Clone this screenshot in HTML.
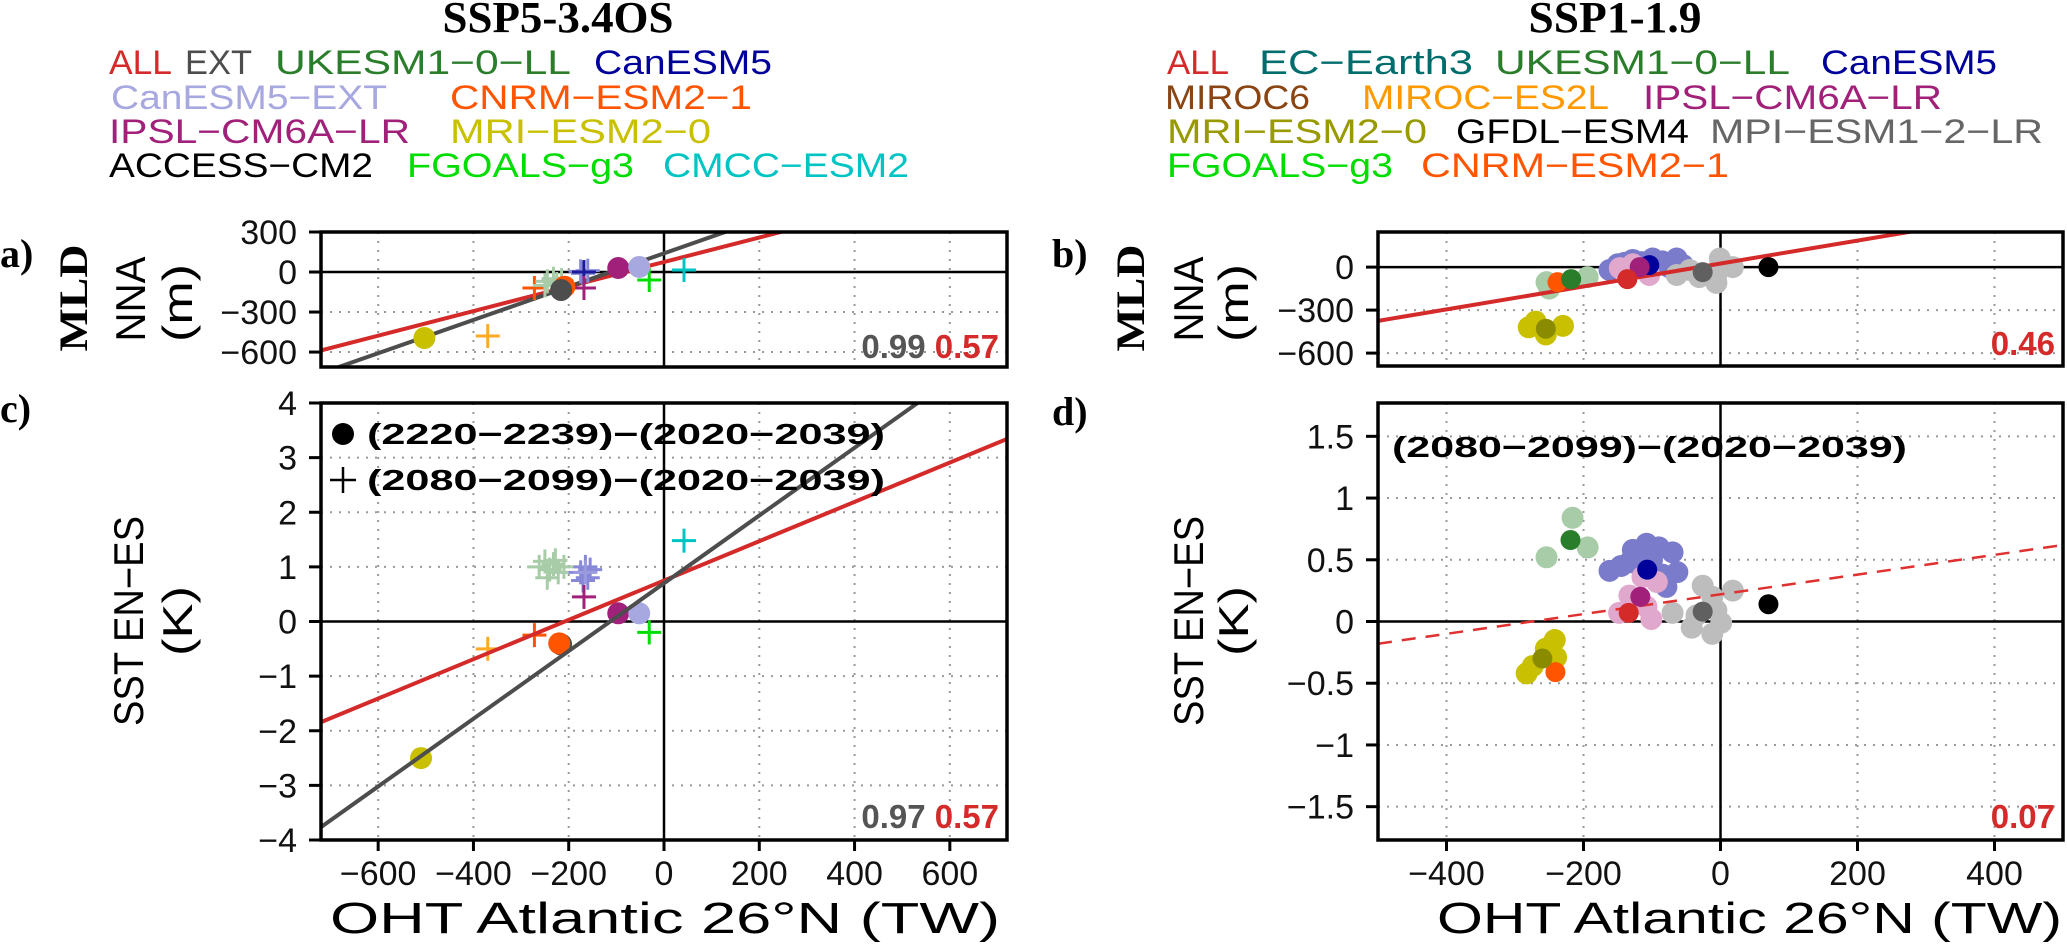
<!DOCTYPE html>
<html><head><meta charset="utf-8"><title>OHT vs MLD / SST scatter</title>
<style>
html,body{margin:0;padding:0;background:#fff;}
svg{display:block;}
.tick{font-family:"Liberation Sans",sans-serif;font-size:34px;fill:#111;}
.leg{font-family:"Liberation Sans",sans-serif;font-size:34px;}
.ttl{font-family:"Liberation Serif",serif;font-weight:bold;font-size:44px;fill:#000;}
.lbl{font-family:"Liberation Serif",serif;font-weight:bold;font-size:40px;fill:#000;}
.ylab{font-family:"Liberation Sans",sans-serif;font-size:42px;fill:#000;}
.xlab{font-family:"Liberation Sans",sans-serif;font-size:44px;fill:#000;}
.corr{font-family:"Liberation Sans",sans-serif;font-size:33px;font-weight:bold;}
.inl{font-family:"Liberation Sans",sans-serif;font-size:29px;font-weight:600;fill:#000;}
</style></head>
<body>
<svg id="fig" width="2067" height="950" viewBox="0 0 2067 950" xmlns="http://www.w3.org/2000/svg">
  <text class="ttl" x="558" y="32" text-anchor="middle" textLength="231" lengthAdjust="spacingAndGlyphs">SSP5-3.4OS</text>
  <text class="ttl" x="1615" y="32" text-anchor="middle" textLength="173" lengthAdjust="spacingAndGlyphs">SSP1-1.9</text>

  <g>
    <text class="leg" x="109" y="74" textLength="63" lengthAdjust="spacingAndGlyphs" fill="#d42a2a">ALL</text>
    <text class="leg" x="185" y="74" textLength="67" lengthAdjust="spacingAndGlyphs" fill="#4d4d4d">EXT</text>
    <text class="leg" x="275" y="74" textLength="296" lengthAdjust="spacingAndGlyphs" fill="#2a7d2a">UKESM1−0−LL</text>
    <text class="leg" x="594" y="74" textLength="178" lengthAdjust="spacingAndGlyphs" fill="#00009a">CanESM5</text>
    <text class="leg" x="111" y="109" textLength="276" lengthAdjust="spacingAndGlyphs" fill="#a8a8e0">CanESM5−EXT</text>
    <text class="leg" x="450" y="109" textLength="302" lengthAdjust="spacingAndGlyphs" fill="#ff5500">CNRM−ESM2−1</text>
    <text class="leg" x="109" y="143" textLength="301" lengthAdjust="spacingAndGlyphs" fill="#a0207a">IPSL−CM6A−LR</text>
    <text class="leg" x="450" y="143" textLength="261" lengthAdjust="spacingAndGlyphs" fill="#c8c000">MRI−ESM2−0</text>
    <text class="leg" x="109" y="177" textLength="264" lengthAdjust="spacingAndGlyphs" fill="#000">ACCESS−CM2</text>
    <text class="leg" x="407" y="177" textLength="227" lengthAdjust="spacingAndGlyphs" fill="#00dd00">FGOALS−g3</text>
    <text class="leg" x="663" y="177" textLength="246" lengthAdjust="spacingAndGlyphs" fill="#00c4c4">CMCC−ESM2</text>
  </g>
  <g>
    <text class="leg" x="1167" y="74" textLength="62" lengthAdjust="spacingAndGlyphs" fill="#d42a2a">ALL</text>
    <text class="leg" x="1259" y="74" textLength="214" lengthAdjust="spacingAndGlyphs" fill="#006d6d">EC−Earth3</text>
    <text class="leg" x="1495" y="74" textLength="295" lengthAdjust="spacingAndGlyphs" fill="#2a7d2a">UKESM1−0−LL</text>
    <text class="leg" x="1821" y="74" textLength="176" lengthAdjust="spacingAndGlyphs" fill="#00009a">CanESM5</text>
    <text class="leg" x="1165" y="109" textLength="145" lengthAdjust="spacingAndGlyphs" fill="#8b4513">MIROC6</text>
    <text class="leg" x="1362" y="109" textLength="247" lengthAdjust="spacingAndGlyphs" fill="#ff9900">MIROC−ES2L</text>
    <text class="leg" x="1643" y="109" textLength="299" lengthAdjust="spacingAndGlyphs" fill="#a0207a">IPSL−CM6A−LR</text>
    <text class="leg" x="1167" y="143" textLength="260" lengthAdjust="spacingAndGlyphs" fill="#999900">MRI−ESM2−0</text>
    <text class="leg" x="1456" y="143" textLength="233" lengthAdjust="spacingAndGlyphs" fill="#000">GFDL−ESM4</text>
    <text class="leg" x="1710" y="143" textLength="333" lengthAdjust="spacingAndGlyphs" fill="#666">MPI−ESM1−2−LR</text>
    <text class="leg" x="1167" y="177" textLength="226" lengthAdjust="spacingAndGlyphs" fill="#00dd00">FGOALS−g3</text>
    <text class="leg" x="1421" y="177" textLength="308" lengthAdjust="spacingAndGlyphs" fill="#ff5500">CNRM−ESM2−1</text>
  </g>

  <text class="lbl" x="0" y="267">a)</text>
  <text class="lbl" x="0" y="422">c)</text>
  <text class="lbl" x="1052" y="267">b)</text>
  <text class="lbl" x="1052" y="425">d)</text>
  <text class="lbl" transform="translate(87,298) rotate(-90)" text-anchor="middle" font-size="48" textLength="107" lengthAdjust="spacingAndGlyphs">MLD</text>
  <text class="ylab" transform="translate(145,299) rotate(-90)" text-anchor="middle" textLength="85" lengthAdjust="spacingAndGlyphs">NNA</text>
  <text class="ylab" transform="translate(192,303) rotate(-90)" text-anchor="middle" textLength="78" lengthAdjust="spacingAndGlyphs">(m)</text>
  <text class="lbl" transform="translate(1144,298) rotate(-90)" text-anchor="middle" font-size="48" textLength="107" lengthAdjust="spacingAndGlyphs">MLD</text>
  <text class="ylab" transform="translate(1203,299) rotate(-90)" text-anchor="middle" textLength="85" lengthAdjust="spacingAndGlyphs">NNA</text>
  <text class="ylab" transform="translate(1248,303) rotate(-90)" text-anchor="middle" textLength="78" lengthAdjust="spacingAndGlyphs">(m)</text>
  <text class="ylab" transform="translate(143,621) rotate(-90)" text-anchor="middle" textLength="210" lengthAdjust="spacingAndGlyphs">SST EN−ES</text>
  <text class="ylab" transform="translate(192,621) rotate(-90)" text-anchor="middle" textLength="70" lengthAdjust="spacingAndGlyphs">(K)</text>
  <text class="ylab" transform="translate(1203,621) rotate(-90)" text-anchor="middle" textLength="210" lengthAdjust="spacingAndGlyphs">SST EN−ES</text>
  <text class="ylab" transform="translate(1248,621) rotate(-90)" text-anchor="middle" textLength="70" lengthAdjust="spacingAndGlyphs">(K)</text>

  <text class="xlab" x="330" y="933" textLength="670" lengthAdjust="spacingAndGlyphs">OHT Atlantic 26°N (TW)</text>
  <text class="xlab" x="1437" y="933" textLength="625" lengthAdjust="spacingAndGlyphs">OHT Atlantic 26°N (TW)</text>

  <g id="plots"></g>
</svg>
<script>
// ---------- data ----------
const aDotX = [-503, -209, -216, -96, -52];
const aDotY = [-495, -110, -135, 30, 38];
const aDotC = ['#c8c000', '#ff5500', '#4d4d4d', '#a0207a', '#a8a8e0'];
const aCrossX = [-272, -250, -245, -232, -225, -215, -175, -170, -160, -168, -168, -31, 42, -370];
const aCrossY = [-120, -100, -70, -50, -90, -60, 5, -10, 10, 0, -120, -60, 15, -480];
const aCrossC = ['#ff5500', '#a8cca8', '#a8cca8', '#a8cca8', '#a8cca8', '#a8cca8', '#8888d8', '#8888d8', '#8888d8', '#1a1a9a', '#a0207a', '#00dd00', '#00c4c4', '#ffaa22'];
const aFitAll = [75, 0.92];
const aFitExt = [140, 1.248];
const aCorr = ['0.99', '0.57'];

const cDotX = [-510, -216, -220, -96, -52];
const cDotY = [-2.5, -0.42, -0.4, 0.15, 0.15];
const cDotC = ['#c8c000', '#4d4d4d', '#ff5500', '#a0207a', '#a8a8e0'];
const cCrossX = [-262, -250, -240, -232, -222, -245, -210, -228, -175, -165, -160, -155, -170, -165, -168, 42, -31, -272, -370];
const cCrossY = [1.0, 1.1, 0.95, 1.05, 0.9, 0.8, 1.0, 1.12, 0.9, 1.0, 0.8, 0.95, 0.75, 0.9, 0.45, 1.48, -0.2, -0.25, -0.5];
const cCrossC = ['#a8cca8', '#a8cca8', '#a8cca8', '#a8cca8', '#a8cca8', '#a8cca8', '#a8cca8', '#a8cca8', '#8888d8', '#8888d8', '#8888d8', '#8888d8', '#8888d8', '#9a9ae0', '#a0207a', '#00c4c4', '#00dd00', '#ff5500', '#ffaa22'];
const cFitAll = [0.75, 0.0036];
const cFitExt = [0.7, 0.0062];
const cCorr = ['0.97', '0.57'];

const bBgX = [-254, -194, -250, -162, -150, -128, -115, -99, -85, -64, -55, -140, -75, -147, -104, -128, -64, -31, -6, -1, 18, -6, -45, -280, -255, -230, -270];
const bBgY = [-105, -70, -150, -20, 20, 50, 35, 60, 40, 60, 15, 30, 0, -7, -55, 20, -55, -70, -55, 60, 0, -110, -20, -420, -470, -410, -380];
const bBgC = ['#a8cca8', '#a8cca8', '#a8cca8', '#7b7bcc', '#7b7bcc', '#7b7bcc', '#7b7bcc', '#7b7bcc', '#7b7bcc', '#7b7bcc', '#7b7bcc', '#7b7bcc', '#7b7bcc', '#e0a8cc', '#e0a8cc', '#e0a8cc', '#bdbdbd', '#bdbdbd', '#bdbdbd', '#bdbdbd', '#bdbdbd', '#bdbdbd', '#bdbdbd', '#c8c000', '#c8c000', '#c8c000', '#c8c000'];
const bDotX = [-238, -218, -104, -118, -136, -26, 70, -255];
const bDotY = [-105, -84, 14, 0, -84, -35, 0, -430];
const bDotC = ['#ff5500', '#2a7d2a', '#00009a', '#a0207a', '#d42a2a', '#606060', '#000000', '#8b8b00'];
const bFitAll = [25, 0.8];
const bCorr = ['0.46'];

const dBgX = [-216, -254, -194, -162, -145, -128, -115, -108, -90, -70, -63, -79, -133, -100, -85, -118, -114, -93, -133, -148, -101, -108, -26, 18, -70, -42, -12, -6, 1, -12, -35, -242, -283, -274, -240, -255];
const dBgY = [0.84, 0.52, 0.6, 0.41, 0.45, 0.58, 0.5, 0.63, 0.6, 0.56, 0.4, 0.28, 0.48, 0.5, 0.38, 0.45, 0.36, 0.32, 0.21, 0.07, 0.02, 0.12, 0.29, 0.25, 0.07, -0.05, -0.1, 0.09, -0.01, 0.2, 0.05, -0.15, -0.42, -0.36, -0.29, -0.22];
const dBgC = ['#a8cca8', '#a8cca8', '#a8cca8', '#7b7bcc', '#7b7bcc', '#7b7bcc', '#7b7bcc', '#7b7bcc', '#7b7bcc', '#7b7bcc', '#7b7bcc', '#7b7bcc', '#7b7bcc', '#7b7bcc', '#7b7bcc', '#7b7bcc', '#e0a8cc', '#e0a8cc', '#e0a8cc', '#e0a8cc', '#e0a8cc', '#e0a8cc', '#bdbdbd', '#bdbdbd', '#bdbdbd', '#bdbdbd', '#bdbdbd', '#bdbdbd', '#bdbdbd', '#bdbdbd', '#bdbdbd', '#c8c000', '#c8c000', '#c8c000', '#c8c000', '#c8c000'];
const dDotX = [-241, -219, -260, -107, -117, -134, -26, 70];
const dDotY = [-0.41, 0.66, -0.3, 0.42, 0.2, 0.07, 0.08, 0.14];
const dDotC = ['#ff5500', '#2a7d2a', '#8b8b00', '#00009a', '#a0207a', '#d42a2a', '#606060', '#000000'];
const dFitAll = [0.22, 0.0008];
const dCorr = ['0.07'];

const xTicksLeft = [-600, -400, -200, 0, 200, 400, 600];
const xTicksRight = [-400, -200, 0, 200, 400];
const yTicksA = [300, 0, -300, -600];
const yTicksB = [0, -300, -600];
const yTicksC = [4, 3, 2, 1, 0, -1, -2, -3, -4];
const yTicksD = [1.5, 1, 0.5, 0, -0.5, -1, -1.5];

// ---------- drawing ----------
const NS = 'http://www.w3.org/2000/svg';
const root = document.getElementById('plots');
function mk(tag, attrs, parent) {
  const el = document.createElementNS(NS, tag);
  for (const k in attrs) el.setAttribute(k, attrs[k]);
  (parent || root).appendChild(el);
  return el;
}
function axis(p) {
  p.sx = v => p.x0 + (v - p.xmin) / (p.xmax - p.xmin) * (p.x1 - p.x0);
  p.sy = v => p.y1 - (v - p.ymin) / (p.ymax - p.ymin) * (p.y1 - p.y0);
  return p;
}
const A = axis({id:'a', x0:321, x1:1007, y0:232, y1:367, xmin:-720, xmax:720, ymin:-712, ymax:300});
const C = axis({id:'c', x0:321, x1:1007, y0:403, y1:840, xmin:-720, xmax:720, ymin:-4, ymax:4});
const B = axis({id:'b', x0:1378, x1:2063, y0:232, y1:366, xmin:-500, xmax:500, ymin:-690, ymax:245});
const D = axis({id:'d', x0:1378, x1:2063, y0:403, y1:840, xmin:-500, xmax:500, ymin:-1.77, ymax:1.77});

function frame(p, xt, yt, showXLabels) {
  const g = mk('g', {});
  
  
  p.g = g;
  const clip = mk('clipPath', {id: 'clip-' + p.id}, g);
  mk('rect', {x: p.x0, y: p.y0, width: p.x1 - p.x0, height: p.y1 - p.y0}, clip);
  p.inner = mk('g', {'clip-path': 'url(#clip-' + p.id + ')'}, g);
  xt.forEach(v => {
    const X = p.sx(v);
    if (v !== 0) {
      const gl = mk('line', {x1: X, x2: X, y1: p.y0, y2: p.y1, stroke: '#999', 'stroke-width': 2, 'stroke-dasharray': '2 7'}, p.inner);
      
      
    }
    if (showXLabels) {
      mk('line', {x1: X, x2: X, y1: p.y1, y2: p.y1 + 11, stroke: '#000', 'stroke-width': 3}, g);
      const t = mk('text', {x: X, y: 885, 'text-anchor': 'middle', class: 'tick'}, g);
      t.textContent = v === 0 ? '0' : (v < 0 ? '−' + Math.abs(v) : String(v));
      
      
    }
  });
  yt.forEach(v => {
    const Y = p.sy(v);
    if (v !== 0) {
      const gl = mk('line', {x1: p.x0, x2: p.x1, y1: Y, y2: Y, stroke: '#999', 'stroke-width': 2, 'stroke-dasharray': '2 7'}, p.inner);
      
      
    }
    mk('line', {x1: p.x0 - 12, x2: p.x0, y1: Y, y2: Y, stroke: '#000', 'stroke-width': 3}, g);
    const t = mk('text', {x: p.x0 - 24, y: Y + 12, 'text-anchor': 'end', class: 'tick'}, g);
    t.textContent = v === 0 ? '0' : (v < 0 ? '−' + Math.abs(v) : String(v));
    
    
  });
  const zx = mk('line', {x1: p.sx(0), x2: p.sx(0), y1: p.y0, y2: p.y1, stroke: '#000', 'stroke-width': 2.5}, p.inner);
  
  
  const zy = mk('line', {x1: p.x0, x2: p.x1, y1: p.sy(0), y2: p.sy(0), stroke: '#000', 'stroke-width': 2.5}, p.inner);
  
  
}
function border(p) {
  const r = mk('rect', {x: p.x0, y: p.y0, width: p.x1 - p.x0, height: p.y1 - p.y0, fill: 'none', stroke: '#000', 'stroke-width': 3.5}, p.g);
  
  
}
function dots(p, xs, ys, cs, r, name) {
  xs.forEach((x, i) => {
    const c = mk('circle', {cx: p.sx(x), cy: p.sy(ys[i]), r: r, fill: cs[i]}, p.inner);
    
    
  });
}
function crosses(p, xs, ys, cs, name) {
  xs.forEach((x, i) => {
    const X = p.sx(x), Y = p.sy(ys[i]), s = 12;
    const g = mk('g', {stroke: cs[i], 'stroke-width': 3}, p.inner);
    
    
    mk('line', {x1: X - s, x2: X + s, y1: Y, y2: Y}, g);
    mk('line', {x1: X, x2: X, y1: Y - s, y2: Y + s}, g);
  });
}
function fit(p, f, color, name, dashed) {
  const a = {x1: p.sx(p.xmin), y1: p.sy(f[0] + f[1] * p.xmin), x2: p.sx(p.xmax), y2: p.sy(f[0] + f[1] * p.xmax), stroke: color, 'stroke-width': dashed ? 2.5 : 4};
  if (dashed) a['stroke-dasharray'] = '14 10';
  const l = mk('line', a, p.inner);
  
  
}
function corr(p, vals, colors, y) {
  const t = mk('text', {x: p.x1 - 8, y: y, 'text-anchor': 'end', class: 'corr'}, p.g);
  
  
  vals.forEach((v, i) => {
    const s = mk('tspan', {fill: colors[i]}, t);
    s.textContent = (i ? ' ' : '') + v;
  });
}

frame(A, xTicksLeft, yTicksA, false);
fit(A, aFitAll, '#d42a2a', 'regression-line-all');
fit(A, aFitExt, '#4d4d4d', 'regression-line-ext');
crosses(A, aCrossX, aCrossY, aCrossC, 'cross-2080-2099');
dots(A, aDotX, aDotY, aDotC, 11, 'dot-2220-2239');
border(A);
corr(A, aCorr, ['#555', '#d42a2a'], 358);

frame(C, xTicksLeft, yTicksC, true);
crosses(C, cCrossX, cCrossY, cCrossC, 'cross-2080-2099');
dots(C, cDotX, cDotY, cDotC, 11, 'dot-2220-2239');
fit(C, cFitAll, '#d42a2a', 'regression-line-all');
fit(C, cFitExt, '#4d4d4d', 'regression-line-ext');
border(C);
corr(C, cCorr, ['#555', '#d42a2a'], 828);
{
  const lg = mk('g', {}, C.g);
  
  
  mk('circle', {cx: 343, cy: 434, r: 11, fill: '#000'}, lg);
  const t1 = mk('text', {x: 367, y: 444, class: 'inl', textLength: 518, lengthAdjust: 'spacingAndGlyphs'}, lg);
  t1.textContent = '(2220−2239)−(2020−2039)';
  mk('line', {x1: 330, x2: 356, y1: 480, y2: 480, stroke: '#000', 'stroke-width': 2.5}, lg);
  mk('line', {x1: 343, x2: 343, y1: 467, y2: 493, stroke: '#000', 'stroke-width': 2.5}, lg);
  const t2 = mk('text', {x: 367, y: 490, class: 'inl', textLength: 518, lengthAdjust: 'spacingAndGlyphs'}, lg);
  t2.textContent = '(2080−2099)−(2020−2039)';
}

frame(B, xTicksRight, yTicksB, false);
dots(B, bBgX, bBgY, bBgC, 11, 'member-dot');
fit(B, bFitAll, '#d42a2a', 'regression-line-all');
dots(B, bDotX, bDotY, bDotC, 10, 'model-mean-dot');
border(B);
corr(B, bCorr, ['#d42a2a'], 355);

frame(D, xTicksRight, yTicksD, true);
dots(D, dBgX, dBgY, dBgC, 11, 'member-dot');
fit(D, dFitAll, '#e03030', 'regression-line-all', true);
dots(D, dDotX, dDotY, dDotC, 10, 'model-mean-dot');
border(D);
corr(D, dCorr, ['#d42a2a'], 828);
{
  const t = mk('text', {x: 1392, y: 457, class: 'inl', textLength: 515, lengthAdjust: 'spacingAndGlyphs'}, D.g);
  t.textContent = '(2080−2099)−(2020−2039)';
  
  
}
</script>
</body></html>
